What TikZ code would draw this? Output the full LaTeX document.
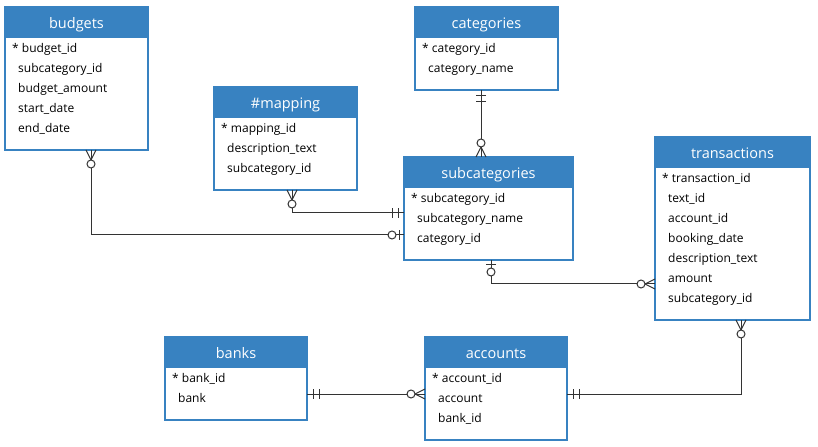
\documentclass[tikz,border=0pt]{standalone}
\usepackage{fontspec}
\setmainfont{Open Sans}
\definecolor{erblue}{RGB}{56,130,193}
\definecolor{erline}{RGB}{51,51,51}
\tikzset{
  x=1bp, y=-1bp,
  entbox/.style={rectangle, inner sep=0pt, outer sep=0pt, draw=erblue, line width=2bp},
  hdrtext/.style={inner sep=0pt, text=white, font=\fontsize{14.5bp}{17bp}\selectfont},
  field/.style={inner sep=0pt, anchor=base west, text=black, font=\fontsize{12bp}{14bp}\selectfont},
  conn/.style={draw=erline, line width=1bp},
  zmany/.pic={\draw[conn] (0,5)--(10,0)--(0,-5); \draw[conn] (0,0)--(10,0); \draw[conn, fill=white] (14,0) circle (4);},
  zone/.pic={\draw[conn] (5,-5)--(5,5); \draw[conn, fill=white] (12,0) circle (4);},
  oneone/.pic={\draw[conn] (6,-5)--(6,5); \draw[conn] (12,-5)--(12,5);}
}
\newcommand{\ERentity}[8]{%
  \node[entbox, minimum width=#4bp, minimum height=#5bp, anchor=north west] (#1) at (#2,#3) {};
  \fill[erblue] (#1.north west) rectangle ([yshift=-31bp]#1.north east);
  \draw[erblue, line width=2bp] (#1.north west) rectangle (#1.south east);
  \node[hdrtext, anchor=base] (#1-title) at ([yshift=-21.5bp]#1.north) {#6};
  \node[field] (#1-f1) at ([xshift=7bp, yshift=-45.5bp]#1.north west) {* #7};
  \foreach \f [count=\i from 2] in {#8} {
    \node[field] (#1-f\i) at ([xshift=13bp, yshift={-(\i*20+25.5)*1bp}]#1.north west) {\f};
  }
}
\begin{document}
\begin{tikzpicture}
\useasboundingbox (0,0) rectangle (818,447);
\ERentity{budgets}{5}{7}{143}{143}{budgets}{budget\_id}{subcategory\_id, budget\_amount, start\_date, end\_date}
\ERentity{categories}{415}{7}{143}{83}{categories}{category\_id}{category\_name}
\ERentity{mapping}{214}{87}{143}{103}{\#mapping}{mapping\_id}{description\_text, subcategory\_id}
\ERentity{subcategories}{404}{157}{169}{103}{subcategories}{subcategory\_id}{subcategory\_name, category\_id}
\ERentity{transactions}{655}{137}{155}{183}{transactions}{transaction\_id}{text\_id, account\_id, booking\_date, description\_text, amount, subcategory\_id}
\ERentity{banks}{165}{337}{142}{83}{banks}{bank\_id}{bank}
\ERentity{accounts}{425}{337}{142}{103}{accounts}{account\_id}{account, bank\_id}

% connectors
\draw[conn] (budgets.south -| 91,0) |- (subcategories.west |- 0,235);
\draw[conn] (mapping.south -| 292,0) |- (subcategories.west |- 0,213);
\draw[conn] (categories.south -| 481,0) -- (subcategories.north -| 481,0);
\draw[conn] (subcategories.south -| 491,0) |- (transactions.west |- 0,284);
\draw[conn] (banks.east |- 0,394) -- (accounts.west |- 0,394);
\draw[conn] (accounts.east |- 0,394) -| (transactions.south -| 741,0);

% end markings
\pic[rotate=-90] at (budgets.south -| 91,0) {zmany};
\pic[rotate=180] at (subcategories.west |- 0,235) {zone};
\pic[rotate=-90] at (mapping.south -| 292,0) {zmany};
\pic[rotate=180] at (subcategories.west |- 0,213) {oneone};
\pic[rotate=-90] at (categories.south -| 481,0) {oneone};
\pic[rotate=90] at (subcategories.north -| 481,0) {zmany};
\pic[rotate=-90] at (subcategories.south -| 491,0) {zone};
\pic[rotate=180] at (transactions.west |- 0,284) {zmany};
\pic[rotate=0] at (banks.east |- 0,394) {oneone};
\pic[rotate=180] at (accounts.west |- 0,394) {zmany};
\pic[rotate=0] at (accounts.east |- 0,394) {oneone};
\pic[rotate=-90] at (transactions.south -| 741,0) {zmany};
\end{tikzpicture}
\end{document}
